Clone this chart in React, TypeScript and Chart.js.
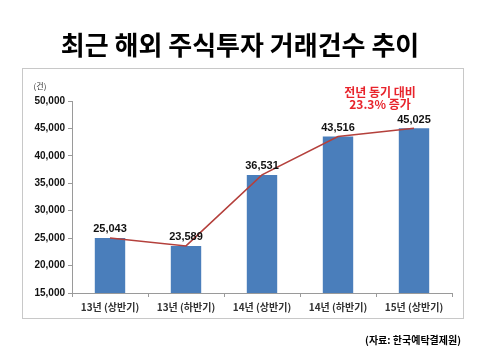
import React, { useEffect, useRef } from "react";
import { Chart, registerables } from "chart.js";

Chart.register(...registerables);

const categories = ["13년 (상반기)", "13년 (하반기)", "14년 (상반기)", "14년 (하반기)", "15년 (상반기)"];
const values = [25043, 23589, 36531, 43516, 45025];
const titleText = "최근 해외 주식투자 거래건수 추이";
const unitText = "(건)";
const noteLines = ["전년 동기 대비", "23.3% 증가"];
const sourceText = "(자료: 한국예탁결제원)";

const KR = "'Noto Sans CJK KR', 'Liberation Sans', sans-serif";
const NUM = "'Liberation Sans', Arial, sans-serif";

const decorPlugin = {
  id: "decor",
  beforeDraw(chart: any) {
    const ctx = chart.ctx;
    ctx.save();
    ctx.fillStyle = "#ffffff";
    ctx.fillRect(0, 0, chart.width, chart.height);
    ctx.strokeStyle = "#c8c8c8";
    ctx.lineWidth = 1;
    ctx.strokeRect(22.5, 68.5, 441, 250);
    ctx.restore();
  },
  afterDraw(chart: any) {
    const ctx = chart.ctx;
    ctx.save();
    ctx.textAlign = "center";
    ctx.textBaseline = "middle";
    ctx.fillStyle = "#000000";
    ctx.font = `bold 26px ${KR}`;
    ctx.fillText(titleText, 240, 45);

    ctx.font = `8px ${KR}`;
    ctx.fillStyle = "#333333";
    ctx.fillText(unitText, 40, 86);

    ctx.fillStyle = "#e8232b";
    ctx.font = `bold 12px ${KR}`;
    ctx.fillText(noteLines[0], 380, 92);
    ctx.fillText(noteLines[1], 380, 104);

    ctx.fillStyle = "#000000";
    ctx.font = `bold 10px ${KR}`;
    ctx.textAlign = "right";
    ctx.fillText(sourceText, 461, 340);

    // data labels
    const meta = chart.getDatasetMeta(1);
    ctx.textAlign = "center";
    ctx.textBaseline = "bottom";
    ctx.font = `bold 11px ${NUM}`;
    ctx.fillStyle = "#111111";
    meta.data.forEach((bar: any, i: number) => {
      ctx.fillText(values[i].toLocaleString("en-US"), bar.x, bar.y - 3);
    });
    ctx.restore();
  },
};

export default function App() {
  const ref = useRef<HTMLCanvasElement>(null);
  useEffect(() => {
    document.body.style.margin = "0";
    const chart = new Chart(ref.current!, {
      type: "bar",
      data: {
        labels: categories,
        datasets: [
          {
            type: "line",
            data: values,
            borderColor: "#b4403c",
            borderWidth: 1.5,
            pointRadius: 0,
            tension: 0,
            order: 0,
          } as any,
          {
            type: "bar",
            data: values,
            backgroundColor: "#4a7ebb",
            barPercentage: 0.4,
            categoryPercentage: 1,
            order: 1,
          },
        ],
      },
      options: {
        responsive: false,
        animation: false,
        devicePixelRatio: 1,
        layout: { padding: { left: 0, right: 32, top: 101, bottom: 29 } },
        plugins: { legend: { display: false }, tooltip: { enabled: false }, title: { display: false } },
        scales: {
          x: {
            grid: { drawOnChartArea: false, drawTicks: true, tickLength: 4, color: "#9a9a9a" },
            border: { color: "#9a9a9a" },
            ticks: { font: { family: KR, size: 10, weight: "bold" }, color: "#333333", padding: 4 },
            afterFit: (s: any) => { s.height = 30; },
          },
          y: {
            min: 15000,
            max: 50000,
            grid: { drawOnChartArea: false, drawTicks: true, tickLength: 4, color: "#9a9a9a" },
            border: { color: "#9a9a9a" },
            ticks: {
              stepSize: 5000,
              font: { family: NUM, size: 10, weight: "bold" },
              color: "#111111",
              padding: 3,
              callback: (v: any) => Number(v).toLocaleString("en-US"),
            },
            afterFit: (s: any) => { s.width = 72; },
          },
        },
      },
      plugins: [decorPlugin],
    });
    return () => chart.destroy();
  }, []);
  return (
    <div style={{ position: "absolute", left: 0, top: 0, width: 484, height: 352 }}>
      <canvas ref={ref} width={484} height={352} style={{ width: 484, height: 352 }} />
    </div>
  );
}
